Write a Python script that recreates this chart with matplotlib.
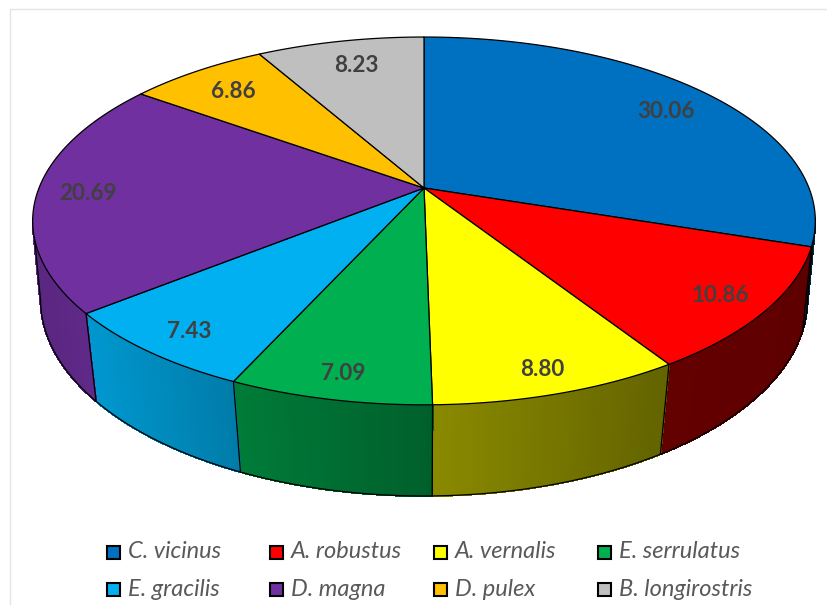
import matplotlib
matplotlib.use('Agg')
import matplotlib.pyplot as plt
from matplotlib.colors import to_rgb
from matplotlib.patches import Rectangle
import numpy as np

species = ['C. vicinus', 'A. robustus', 'A. vernalis', 'E. serrulatus',
           'E. gracilis', 'D. magna', 'D. pulex', 'B. longirostris']
values = [30.06, 10.86, 8.80, 7.09, 7.43, 20.69, 6.86, 8.23]
value_labels = ['30.06', '10.86', '8.80', '7.09', '7.43', '20.69', '6.86', '8.23']
colors = ['#0070C0', '#FF0000', '#FFFF00', '#00B050',
          '#00B0F0', '#7030A0', '#FFC000', '#BFBFBF']

# where the reference puts things, in image pixels
label_xy = [(666, 111), (720, 296), (542, 369), (343, 374),
            (189, 331), (88, 194), (233, 91), (356, 66)]
legend_x = [107, 270, 434, 598]
legend_y = [552, 589]

# side wall darkening against screen x
shade_x = [33, 88, 235, 433, 667, 815]
shade_f = [0.80, 0.86, 0.70, 0.54, 0.39, 0.37]

# perspective of top and bottom disc: x0, y0, c, a, k
top_disc = (424, 188, 385, 178, 0.179)
bottom_disc = (424, 268, 378.5, 191.5, 0.16)


def project(t_deg, disc):
    x0, y0, c, a, k = disc
    t = np.radians(t_deg)
    denom = 1 + k * np.sin(t)
    return x0 + c * np.cos(t) / denom, y0 - a * np.sin(t) / denom


fig = plt.figure(figsize=(8.27, 6.05), dpi=100)
ax = fig.add_axes([0, 0, 1, 1])
ax.set_xlim(0, 827)
ax.set_ylim(605, 0)
ax.axis('off')

ax.plot([9.5, 9.5, 827], [605, 8.5, 8.5], color='#e4e4e4', lw=1, zorder=0)

edges = 90 - 360 * np.cumsum([0] + values) / np.sum(values)
side_start, side_end = -9.5, -170.5

# side wall, as thin strips so the shading can run along it
for i in range(len(values)):
    t0 = min(edges[i], side_start)
    t1 = max(edges[i + 1], side_end)
    if t0 <= t1:
        continue
    ts = np.linspace(t0, t1, int((t0 - t1) / 0.5) + 2)
    xt, yt = project(ts, top_disc)
    xb, yb = project(ts, bottom_disc)
    base = np.array(to_rgb(colors[i]))
    for j in range(len(ts) - 1):
        f = np.interp((xt[j] + xt[j + 1]) / 2, shade_x, shade_f)
        ax.fill([xt[j], xt[j + 1], xb[j + 1], xb[j]], [yt[j], yt[j + 1], yb[j + 1], yb[j]],
                color=base * f, lw=0.8, antialiased=False, zorder=1)
    if edges[i + 1] > side_end and edges[i + 1] < side_start:
        ax.plot([xt[-1], xb[-1]], [yt[-1], yb[-1]], color='black', lw=0.9, zorder=2)

# outer silhouette of the wall
ts = np.linspace(side_start, side_end, 300)
xb, yb = project(ts, bottom_disc)
ax.plot(xb, yb, color='black', lw=0.9, zorder=2)
for t in [side_start, side_end]:
    xa, ya = project(t, top_disc)
    xc, yc = project(t, bottom_disc)
    ax.plot([xa, xc], [ya, yc], color='black', lw=0.9, zorder=2)

# top face
for i in range(len(values)):
    ts = np.linspace(edges[i], edges[i + 1], 200)
    x, y = project(ts, top_disc)
    ax.fill(np.r_[top_disc[0], x], np.r_[top_disc[1], y], facecolor=colors[i],
            edgecolor='black', lw=0.9, joinstyle='round', zorder=3)

for (x, y), s in zip(label_xy, value_labels):
    ax.text(x, y, s, family='Lato', fontweight='bold', fontsize=16.2, color='#404040',
            ha='center', va='center', zorder=4)

# legend, filled row by row like the reference
for i, name in enumerate(species):
    lx = legend_x[i % 4]
    ly = legend_y[i // 4]
    ax.add_patch(Rectangle((lx, ly - 6.5), 13, 13, facecolor=colors[i], edgecolor='black', lw=1.5, zorder=4))
    ax.text(lx + 21, ly, name, family='Lato', style='italic', fontsize=17, color='#595959',
            ha='left', va='center', zorder=4)

fig.savefig('out.png', dpi=100)
